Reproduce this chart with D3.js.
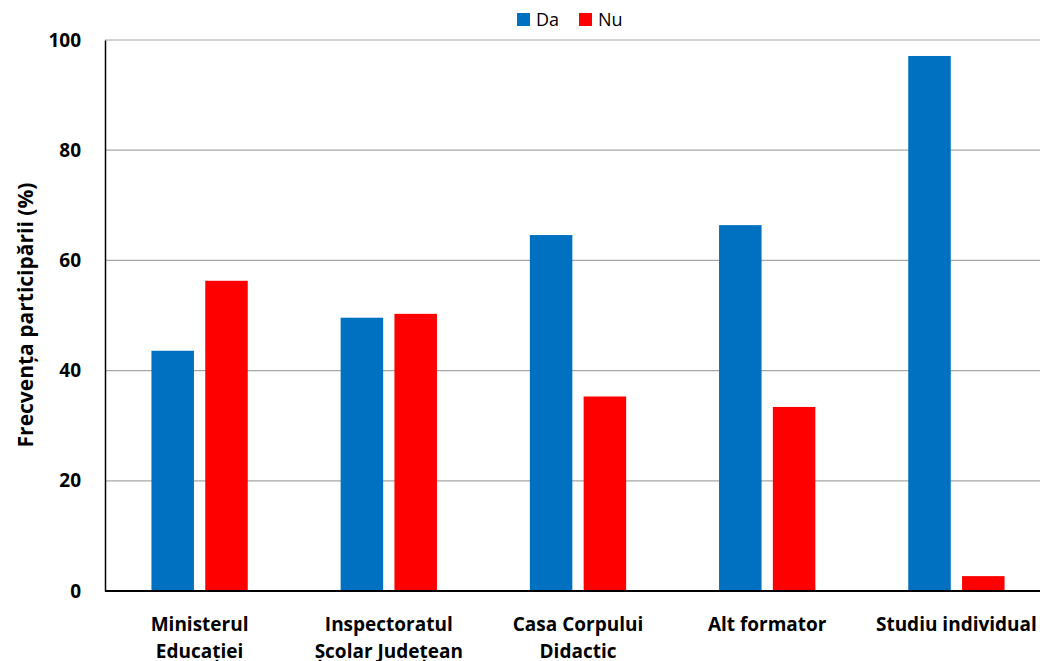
<!DOCTYPE html>
<html>
<head>
<meta charset="utf-8">
<script src="https://cdn.jsdelivr.net/npm/d3@7"></script>
<style>
  body { margin: 0; background: #fff; }
  svg text { font-family: "Open Sans", Lato, sans-serif; }
</style>
</head>
<body>
<div id="chart"></div>
<script>
const categories = [
    ["Ministerul", "Educației"],
    ["Inspectoratul", "Școlar Județean"],
    ["Casa Corpului", "Didactic"],
    ["Alt formator"],
    ["Studiu individual"]
];
const series = ["Da", "Nu"];
const valuesDa = [43.6, 49.6, 64.6, 66.4, 97.1];
const valuesNu = [56.3, 50.3, 35.3, 33.4, 2.7];
const yTicks = [0, 20, 40, 60, 80, 100];
const colors = ["#0070C0", "#FF0000"];

const w = 1040, h = 661;
const padLeft = 105, padTop = 40, padBottom = 591;

const svg = d3.select("#chart")
    .append("svg")
    .attr("width", w)
    .attr("height", h);

const keys = categories.map((d) => d.join(" "));

// scales
const x0 = d3.scaleBand()
    .domain(keys)
    .range([padLeft, padLeft + 5 * 189.2])
    .paddingInner(0.491)
    .paddingOuter(0.2455);

const x1 = d3.scaleBand()
    .domain(series)
    .range([0, x0.bandwidth()])
    .paddingInner(0.21);

const y = d3.scaleLinear()
    .domain([0, 100])
    .range([padBottom, padTop]);

// gridlines
svg.append("g")
    .selectAll("line")
    .data(yTicks.filter((d) => d > 0))
    .enter()
    .append("line")
    .attr("x1", padLeft)
    .attr("x2", w)
    .attr("y1", (d) => y(d))
    .attr("y2", (d) => y(d))
    .attr("stroke", "#a6a6a6")
    .attr("stroke-width", 1.2);

// bars
const rows = keys.map((k, i) => ({ key: k, vals: [valuesDa[i], valuesNu[i]] }));

const groups = svg.append("g")
    .selectAll("g")
    .data(rows)
    .enter()
    .append("g")
    .attr("transform", (d) => "translate(" + x0(d.key) + ",0)");

groups.selectAll("rect")
    .data((d) => d.vals.map((v, j) => ({ s: series[j], v: v, c: colors[j] })))
    .enter()
    .append("rect")
    .attr("x", (d) => x1(d.s))
    .attr("y", (d) => y(d.v))
    .attr("width", x1.bandwidth())
    .attr("height", (d) => padBottom - y(d.v))
    .attr("fill", (d) => d.c);

// y axis
const yAxis = d3.axisLeft(y).tickValues(yTicks).tickSize(0).tickPadding(24);
const gy = svg.append("g")
    .attr("transform", "translate(" + padLeft + ",0)")
    .call(yAxis);
gy.select(".domain").attr("stroke", "#000").attr("stroke-width", 1.5);
gy.selectAll("text")
    .attr("font-family", "'Open Sans', sans-serif")
    .attr("font-size", 19)
    .attr("font-weight", "bold")
    .attr("fill", "#000");

// x axis
const xAxis = d3.axisBottom(x0).tickSize(0).tickFormat("");
const gx = svg.append("g")
    .attr("transform", "translate(0," + padBottom + ")")
    .call(xAxis);
gx.select(".domain").attr("stroke", "#000").attr("stroke-width", 2)
    .attr("d", "M" + padLeft + ",0H" + w);

// category labels (multi-line)
svg.append("g")
    .selectAll("text")
    .data(categories)
    .enter()
    .append("text")
    .attr("x", (d) => x0(d.join(" ")) + x0.bandwidth() / 2)
    .attr("y", 631)
    .attr("text-anchor", "middle")
    .attr("font-size", 19)
    .attr("font-weight", "bold")
    .attr("fill", "#000")
    .each(function (d) {
        d3.select(this).selectAll("tspan")
            .data(d)
            .enter()
            .append("tspan")
            .attr("x", x0(d.join(" ")) + x0.bandwidth() / 2)
            .attr("dy", (t, i) => i === 0 ? 0 : 27)
            .text((t) => t);
    });

// y axis title
svg.append("text")
    .attr("transform", "rotate(-90)")
    .attr("x", -315)
    .attr("y", 33)
    .attr("text-anchor", "middle")
    .attr("font-size", 21)
    .attr("font-weight", "bold")
    .attr("fill", "#000")
    .text("Frecvența participării (%)");

// legend
const legend = svg.append("g");
const legendX = [517, 579];
series.forEach((s, i) => {
    legend.append("rect")
        .attr("x", legendX[i])
        .attr("y", 13)
        .attr("width", 13)
        .attr("height", 13)
        .attr("fill", colors[i]);
    legend.append("text")
        .attr("x", legendX[i] + 19)
        .attr("y", 26)
        .attr("font-size", 18)
        .attr("fill", "#000")
        .text(s);
});
</script>
</body>
</html>
